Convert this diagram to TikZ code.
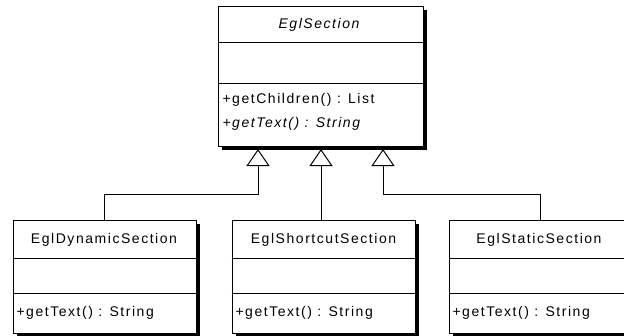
\documentclass[tikz,border=0pt]{standalone}
\usepackage{fontspec}
\setmainfont{Liberation Sans}[LetterSpace=11]
\usetikzlibrary{arrows.meta,shadows}

\begin{document}
\begin{tikzpicture}[x=1pt,y=-1pt,line width=1pt,
    classbox/.style={draw=black,fill=white,inner sep=0pt,
        drop shadow={shadow xshift=4pt,shadow yshift=-4pt,fill=black,opacity=1}},
    txt/.style={inner sep=0pt,font=\fontsize{14}{16}\selectfont},
    inherit/.style={-{Triangle[open,length=17pt,width=23pt]}}]
        \useasboundingbox[fill=white] (0,0) rectangle (624,335);

        \node[classbox,minimum width=205,minimum height=140] (sec) at (320.5,76) {};
        \node[classbox,minimum width=183,minimum height=113] (dyn) at (104.5,276.5) {};
        \node[classbox,minimum width=183,minimum height=113] (mid) at (323.5,276.5) {};
        \node[classbox,minimum width=183,minimum height=113] (sta) at (540.5,276.5) {};

        %compartments
        \draw ([yshift=-37pt]sec.north west) -- ([yshift=-37pt]sec.north east);
        \draw ([yshift=-78pt]sec.north west) -- ([yshift=-78pt]sec.north east);
        \foreach \c in {dyn,mid,sta} {
            \draw ([yshift=-39pt]\c.north west) -- ([yshift=-39pt]\c.north east);
            \draw ([yshift=-74pt]\c.north west) -- ([yshift=-74pt]\c.north east);
        }

        \node[txt] (sect) at (319,25) {\itshape EglSection};
        \node[txt,anchor=west] (secm1) at (222,100) {+getChildren() : List};
        \node[txt,anchor=west] (secm2) at (222,124) {\itshape +getText() : String};
        \node[txt] (dynt) at (104,240) {EglDynamicSection};
        \node[txt,anchor=west] (dynm) at (16,313) {+getText() : String};
        \node[txt] (midt) at (323.5,240) {EglShortcutSection};
        \node[txt,anchor=west] (midm) at (235,313) {+getText() : String};
        \node[txt] (stat) at (539,240) {EglStaticSection};
        \node[txt,anchor=west] (stam) at (452,313) {+getText() : String};

        \coordinate (t1) at (258,149);
        \coordinate (t2) at (321,149);
        \coordinate (t3) at (383,149);

        %generalisations
        \draw[inherit] (dyn.north) -- ++(0,-25) -| (t1);
        \draw[inherit] (mid.north -| t2) -- (t2);
        \draw[inherit] (sta.north) -- ++(0,-25) -| (t3);
\end{tikzpicture}
\end{document}
